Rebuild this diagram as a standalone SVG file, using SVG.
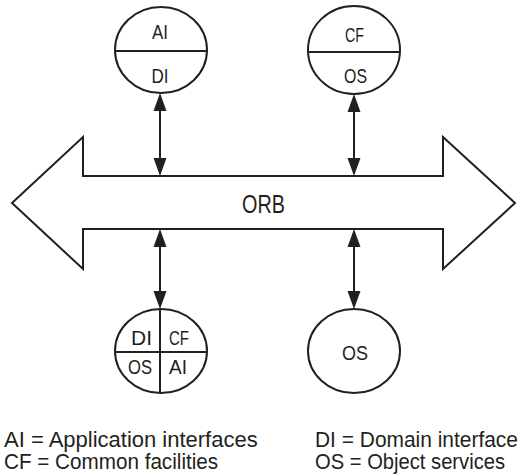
<svg xmlns="http://www.w3.org/2000/svg" width="523" height="476" viewBox="0 0 523 476">
<style>
.sh{fill:#fff;stroke:#231f20;stroke-width:2}
.ln{stroke:#231f20;stroke-width:2;fill:none}
.hd{fill:#231f20;stroke:none}
text{font-family:"Liberation Sans",Arial,sans-serif;fill:#231f20}
.lb{font-size:20px;text-anchor:middle}
.lg{font-size:22px}
</style>
<rect width="523" height="476" fill="#fff"/>
<g id="orb">
<polygon class="sh" points="12,203 83,137 83,176 443,176 443,137 515,203 443,269 443,229 83,229 83,269"/>
<text x="263.5" y="213" style="font-size:26px;text-anchor:middle" textLength="43" lengthAdjust="spacingAndGlyphs">ORB</text>
</g>
<g id="node-ai-di">
<ellipse class="sh" cx="161" cy="50" rx="46" ry="43"/>
<line class="ln" x1="115" y1="51" x2="207" y2="51"/>
<text class="lb" x="160" y="39" textLength="16" lengthAdjust="spacingAndGlyphs">AI</text>
<text class="lb" x="160" y="83" textLength="17" lengthAdjust="spacingAndGlyphs">DI</text>
</g>
<g id="node-cf-os">
<ellipse class="sh" cx="354" cy="50" rx="46" ry="44"/>
<line class="ln" x1="308" y1="52" x2="400" y2="52"/>
<text class="lb" x="354.5" y="42" textLength="19" lengthAdjust="spacingAndGlyphs">CF</text>
<text class="lb" x="355.5" y="83" textLength="23" lengthAdjust="spacingAndGlyphs">OS</text>
</g>
<g id="node-quad">
<ellipse class="sh" cx="161" cy="351" rx="46" ry="42"/>
<line class="ln" x1="160" y1="309" x2="160" y2="393"/>
<line class="ln" x1="115" y1="352" x2="207" y2="352"/>
<text class="lb" x="141.5" y="345" textLength="21" lengthAdjust="spacingAndGlyphs">DI</text>
<text class="lb" x="179" y="345" textLength="20" lengthAdjust="spacingAndGlyphs">CF</text>
<text class="lb" x="140" y="374" textLength="24" lengthAdjust="spacingAndGlyphs">OS</text>
<text class="lb" x="178" y="374" textLength="18" lengthAdjust="spacingAndGlyphs">AI</text>
</g>
<g id="node-os">
<ellipse class="sh" cx="354" cy="351" rx="46" ry="42"/>
<text class="lb" x="355" y="360" textLength="26" lengthAdjust="spacingAndGlyphs">OS</text>
</g>
<g id="connectors">
<line class="ln" x1="160" y1="110" x2="160" y2="160"/>
<polygon class="hd" points="160,93 166.5,111 153.5,111"/>
<polygon class="hd" points="160,176 166.5,158 153.5,158"/>
<line class="ln" x1="354" y1="111" x2="354" y2="160"/>
<polygon class="hd" points="354,94 360.5,112 347.5,112"/>
<polygon class="hd" points="354,176 360.5,158 347.5,158"/>
<line class="ln" x1="160" y1="245" x2="160" y2="294"/>
<polygon class="hd" points="160,229 166.5,247 153.5,247"/>
<polygon class="hd" points="160,309 166.5,291 153.5,291"/>
<line class="ln" x1="354" y1="245" x2="354" y2="294"/>
<polygon class="hd" points="354,229 360.5,247 347.5,247"/>
<polygon class="hd" points="354,309 360.5,291 347.5,291"/>
</g>
<g id="legend">
<text class="lg" transform="translate(4,447) scale(0.86,1)" x="0" y="0" textLength="295" lengthAdjust="spacingAndGlyphs">AI = Application interfaces</text>
<text class="lg" transform="translate(4,469) scale(0.86,1)" x="0" y="0" textLength="249" lengthAdjust="spacingAndGlyphs">CF = Common facilities</text>
<text class="lg" transform="translate(315,447) scale(0.86,1)" x="0" y="0" textLength="236" lengthAdjust="spacingAndGlyphs">DI = Domain interface</text>
<text class="lg" transform="translate(315,469) scale(0.86,1)" x="0" y="0" textLength="221" lengthAdjust="spacingAndGlyphs">OS = Object services</text>
</g>
</svg>
